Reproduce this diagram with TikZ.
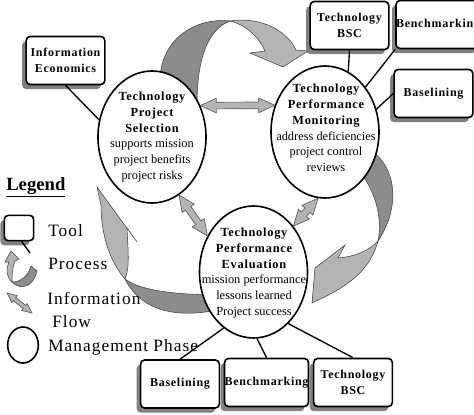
\documentclass[tikz,border=0pt]{standalone}
\usepackage{fontspec}
\setmainfont{Liberation Serif}
\newfontfamily\spacedfont[LetterSpace=6]{Liberation Serif}
\usepackage{xcolor}
\definecolor{Dark Grey}{HTML}{8C8C8C}
\definecolor{Light Grey}{HTML}{B4B4B4}
\colorlet{cDark}{Dark Grey}
\colorlet{cLight}{Light Grey}
\usepackage{tikz}
\usetikzlibrary{calc, shapes.geometric, shadows, positioning}
\newcommand{\phaseTitle}[1]{{\spacedfont\bfseries #1}}
% double arrow between two points, #1 = size factor
\newcommand{\infoflow}[3][1]{%
	\coordinate (fa) at ($(#2)!#1*12pt!(#3)$);
	\coordinate (fb) at ($(#3)!#1*12pt!(#2)$);
	\draw[flow] (#2) -- ($(fa)!#1*5.5pt!90:(#3)$) -- ($(fa)!#1*2.5pt!90:(#3)$)
		-- ($(fb)!#1*2.5pt!-90:(#2)$) -- ($(fb)!#1*5.5pt!-90:(#2)$) -- (#3)
		-- ($(fb)!#1*5.5pt!90:(#2)$) -- ($(fb)!#1*2.5pt!90:(#2)$)
		-- ($(fa)!#1*2.5pt!-90:(#3)$) -- ($(fa)!#1*5.5pt!-90:(#3)$) -- cycle;
}
\tikzset{
	line width = .9pt,
	phase/.style={
		draw,
		ellipse,
		line width=1.2pt,
		fill=white,
		inner sep=0pt,
		minimum width=81pt,
		minimum height=99pt
	},
	phasetext/.style={
		align=center,
		inner sep=0pt,
		font=\fontsize{9.3}{11.8}\selectfont
	},
	tool/.style={
		draw,
		rounded corners=3pt,
		line width=1.2pt,
		fill=white,
		inner sep=0pt,
		minimum width=59pt,
		minimum height=36pt,
		align=center,
		font=\spacedfont\bfseries\fontsize{9}{12}\selectfont,
		drop shadow={shadow xshift=-3pt, shadow yshift=-3.5pt, fill=black!55, opacity=.9}
	},
	link/.style={
		line width=1pt
	},
	process back/.style={
		fill=cDark,
		draw=black!75,
		line width=.4pt
	},
	process front/.style={
		fill=cLight,
		draw=black!75,
		line width=.4pt
	},
	flow/.style={
		fill=cLight,
		draw=black!65,
		line width=.5pt
	},
	legendtext/.style={
		anchor=west,
		inner sep=0pt,
		font=\addfontfeature{LetterSpace=6}\fontsize{13}{15}\selectfont
	}
}

\begin{document}
\begin{tikzpicture}[x=0.75pt, y=-0.75pt]
	\useasboundingbox (0,0) rectangle (474,414);
	% process arrows
	\draw[process back] (160,85) .. controls (158,40) and (195,17) .. (230,21)
		.. controls (212,28) and (197,50) .. (197,105) -- cycle;
	\draw[process front] (230,21) .. controls (262,16) and (288,32) .. (296,50) -- (308,51) -- (283,67)
		-- (250,53) -- (265,51) .. controls (258,36) and (246,25) .. (230,21) -- cycle;
	\draw[process back] (370,150) .. controls (395,165) and (402,205) .. (378,241)
		.. controls (382,222) and (378,195) .. (360,172) -- cycle;
	\draw[process front] (378,241) .. controls (368,252) and (352,257) .. (338,258) -- (345,245)
		-- (315,268) -- (312,303) .. controls (335,292) and (368,278) .. (378,241) -- cycle;
	\draw[process back] (212,295) .. controls (170,294) and (140,290) .. (125,279)
		.. controls (135,300) and (160,320) .. (212,311) -- cycle;
	\draw[process front] (125,279) .. controls (110,262) and (101,235) .. (101,205) -- (97,187)
		-- (137,242) -- (127,228) .. controls (128,250) and (130,268) .. (125,279) -- cycle;

	% phases
	\node[phase] (select) at (152,137) {};
	\node[phase] (monitor) at (325,132) {};
	\node[phase] (evaluate) at (253.5,272) {};
	\node[phasetext] (selectText) at (select) {\phaseTitle{Technology}\\\phaseTitle{Project}\\\phaseTitle{Selection}\\supports mission\\project benefits\\project risks};
	\node[phasetext] (monitorText) at (326,128) {\phaseTitle{Technology}\\\phaseTitle{Performance}\\\phaseTitle{Monitoring}\\address deficiencies\\project control\\reviews};
	\node[phasetext] (evaluateText) at (254,273) {\phaseTitle{Technology}\\\phaseTitle{Performance}\\\phaseTitle{Evaluation}\\mission performance\\lessons learned\\Project success};

	% tools
	\node[tool] (infoEcon) at (65.5,60.5) {Information\\Economics};
	\node[tool] (bscTop) at (349.5,25.5) {Technology\\BSC};
	\node[tool] (benchTop) at (438,24.5) {Benchmarking};
	\node[tool] (baseRight) at (433.5,93.5) {Baselining};
	\node[tool] (baseBot) at (180,384) {Baselining};
	\node[tool] (benchBot) at (266.5,382.5) {Benchmarking};
	\node[tool] (bscBot) at (353,382.5) {Technology\\BSC};
	\draw[link] (infoEcon.south) -- (select.162)
		(bscTop.south) -- (monitor.69)
		(benchTop.south west) -- (monitor.48)
		(baseRight.west) -- (monitor.24)
		(evaluate.242) -- (baseBot.north)
		(evaluate.-87) -- (benchBot.north)
		(evaluate.-56) -- (bscBot.north);

	% information flow
	\infoflow{select.33}{monitor.152}
	\infoflow{select.-65}{evaluate.142}
	\infoflow{monitor.-96}{evaluate.49}

	% legend
	\node[anchor=west, inner sep=0pt, font=\bfseries\fontsize{14}{16}\selectfont] (legendTitle) at (6,187) {\underline{Legend}};
	\node[tool, minimum width=22pt, minimum height=19pt] (legendTool) at (19,228) {};
	\coordinate (legendToolEnd) at (30,253);
	\draw[link] ([xshift=2pt]legendTool.south) -- (legendToolEnd);
	\draw[process back] (12,282) .. controls (22,292) and (34,285) .. (37,271) -- (31,266)
		.. controls (28,276) and (21,282) .. (12,282) -- cycle;
	\draw[process front] (12,282) .. controls (6,276) and (6,268) .. (9,262) -- (5,262) -- (11,251)
		-- (19,259) -- (15,261) .. controls (12,268) and (12,276) .. (12,282) -- cycle;
	\coordinate (legendFlowA) at (7,293);
	\coordinate (legendFlowB) at (32,313);
	\infoflow[.6]{legendFlowA}{legendFlowB}
	\node[draw, ellipse, line width=1.2pt, minimum width=23pt, minimum height=27pt] (legendPhase) at (23,345) {};
	\node[legendtext] (toolText) at (48,231) {Tool};
	\node[legendtext] (processText) at (48,264) {Process};
	\node[legendtext] (flowText) at (47,298) {Information};
	\node[legendtext] (flowText2) at (52,322) {Flow};
	\node[legendtext] (phaseText) at (48,347) {Management Phase};
\end{tikzpicture}
\end{document}
